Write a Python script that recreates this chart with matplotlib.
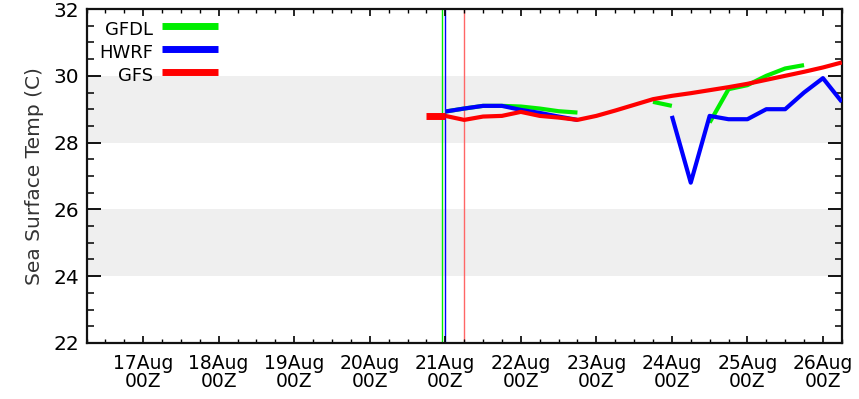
import numpy as np
import matplotlib
matplotlib.use("Agg")
import matplotlib.pyplot as plt
from matplotlib.ticker import MultipleLocator, FixedLocator

nan = np.nan

# forecast valid times, day of August (00Z = .0, 06Z = .25, ...)
times = [21.0, 21.25, 21.5, 21.75, 22.0, 22.25, 22.5, 22.75, 23.0, 23.25, 23.5,
         23.75, 24.0, 24.25, 24.5, 24.75, 25.0, 25.25, 25.5, 25.75, 26.0, 26.25]

gfdl = [28.93, 29.02, 29.1, 29.1, 29.08, 29.02, 28.94, 28.9, nan, nan, nan,
        29.22, 29.1, nan, 28.6, 29.6, 29.72, 30.0, 30.22, 30.32, nan, nan]
hwrf = [28.93, 29.02, 29.1, 29.1, 28.98, 28.89, 28.78, 28.68, nan, nan, nan,
        nan, 28.8, 26.8, 28.8, 28.7, 28.7, 29.0, 29.0, 29.5, 29.93, 29.22]
gfs = [28.8, 28.68, 28.78, 28.8, 28.92, 28.8, 28.75, 28.68, 28.8, 28.96, 29.13,
       29.3, 29.4, 29.48, 29.57, 29.66, 29.76, 29.88, 30.0, 30.12, 30.25, 30.4]

# analysis segment before initial time (thick)
init_times = [20.75, 21.0]
init_gfs = [28.8, 28.8]

# initialization time markers
gfdl_init = 20.96
hwrf_init = 21.0
gfs_init = 21.25

day_ticks = [17, 18, 19, 20, 21, 22, 23, 24, 25, 26]
day_labels = ["%dAug\n00Z" % d for d in day_ticks]
bands = [(24, 26), (28, 30)]

models = ["GFDL", "HWRF", "GFS"]
colors = {"GFDL": "#00ee00", "HWRF": "#0000ff", "GFS": "#ff0000"}

plt.rcParams["font.family"] = ["DejaVu Sans"]

fig = plt.figure(figsize=(8.59, 3.99), dpi=100)
ax = fig.add_axes([0.1007, 0.1404, 0.98 - 0.1007, 0.9774 - 0.1404])

for lo, hi in bands:
    ax.axhspan(lo, hi, color="#efefef", lw=0, zorder=0)

ax.axvline(gfdl_init, color=colors["GFDL"], lw=1.0, zorder=1)
ax.axvline(hwrf_init, color=colors["HWRF"], lw=1.0, zorder=1)
ax.axvline(gfs_init, color="#ff6666", lw=1.0, zorder=1)

ax.plot(times, gfdl, color=colors["GFDL"], lw=3, zorder=3, solid_capstyle="butt")
ax.plot(times, hwrf, color=colors["HWRF"], lw=3, zorder=4, solid_capstyle="butt")
ax.plot(times, gfs, color=colors["GFS"], lw=3, zorder=5, solid_capstyle="butt")
ax.plot(init_times, init_gfs, color=colors["GFS"], lw=5, zorder=5, solid_capstyle="butt")

ax.set_xlim(16.25, 26.25)
ax.set_ylim(22, 32)
ax.xaxis.set_major_locator(FixedLocator(day_ticks))
ax.set_xticklabels(day_labels, fontsize=13.5, linespacing=0.95)
ax.xaxis.set_minor_locator(MultipleLocator(0.25))
ax.yaxis.set_major_locator(MultipleLocator(2))
ax.yaxis.set_minor_locator(MultipleLocator(0.5))
ax.tick_params(axis="y", which="major", labelsize=14.5, length=10, width=1.3,
               direction="in", left=True, right=True, pad=5)
ax.tick_params(axis="y", which="minor", length=5, width=1.1, direction="in",
               left=True, right=True)
ax.tick_params(axis="x", which="major", length=5, width=1.2, direction="in",
               top=True, bottom=True, pad=8)
ax.tick_params(axis="x", which="minor", length=3, width=1.0, direction="in",
               top=True, bottom=True)
for s in ax.spines.values():
    s.set_linewidth(1.6)
    s.set_color("#111111")

ax.set_ylabel("Sea Surface Temp (C)", fontsize=14.5, labelpad=7, color="#333333")

# legend drawn as text + sample lines in axes coordinates
leg_y = [0.95, 0.88, 0.81]
for name, yy in zip(models, leg_y):
    ax.text(0.088, yy - 0.012, name, transform=ax.transAxes, ha="right",
            va="center", fontsize=13, zorder=6)
    ax.plot([0.1, 0.174], [yy, yy], transform=ax.transAxes,
            color=colors[name], lw=5, zorder=6, solid_capstyle="butt")

fig.savefig("out.png", dpi=100)
